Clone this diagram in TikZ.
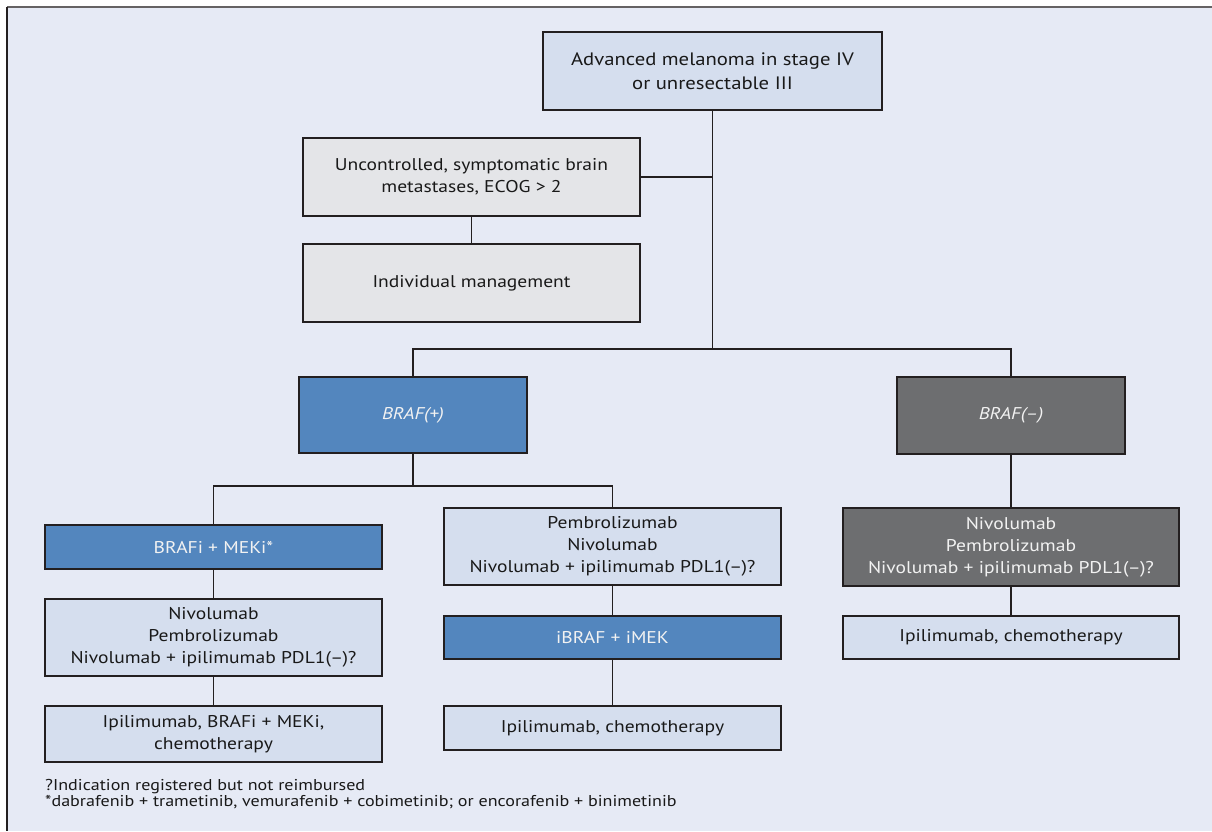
\documentclass[tikz,border=0pt]{standalone}
\usepackage{fontspec}
\setmainfont{PT Sans}[FakeStretch=1.15]
\definecolor{bg}{HTML}{E6EAF5}
\definecolor{lightbox}{HTML}{D5DEEE}
\definecolor{greybox}{HTML}{E4E5E8}
\definecolor{bluebox}{HTML}{5386BE}
\definecolor{darkbox}{HTML}{6D6E70}
\definecolor{linec}{HTML}{231F20}
\begin{document}
\begin{tikzpicture}[x=1pt,y=-1pt,
  box/.style={draw=linec, line width=1.2pt, rectangle, align=center, inner sep=2pt,
    font=\fontsize{17}{22}\selectfont, text=black!90},
  lbox/.style={box, fill=lightbox},
  gbox/.style={box, fill=greybox},
  bbox/.style={box, fill=bluebox, text=white!95!black},
  dbox/.style={box, fill=darkbox, text=white!95!black},
  conn/.style={draw=linec, line width=1.1pt},
  note/.style={anchor=base west, inner sep=0pt, font=\fontsize{15.7}{15.5}\selectfont, text=black!90}]
\useasboundingbox (0,0) rectangle (1212,831);
\fill[bg] (7,7) rectangle (1212,831);
\draw[linec!70, line width=1.2pt] (7,7) -- (1212,7);
\draw[linec, line width=1.5pt] (7,7) -- (7,831);

\node[lbox, minimum width=339pt, minimum height=78pt, font=\fontsize{18}{24}\selectfont] (top) at (712.5,71) {Advanced melanoma in stage IV\\or unresectable III};
\node[gbox, minimum width=337pt, minimum height=78pt] (unc) at (471.5,177) {Uncontrolled, symptomatic brain\\metastases, ECOG > 2};
\node[gbox, minimum width=337pt, minimum height=78pt] (ind) at (471.5,283) {Individual management};
\node[bbox, minimum width=228pt, minimum height=76pt] (bp) at (413,415) {\itshape BRAF(+)};
\node[dbox, minimum width=228pt, minimum height=77pt] (bm) at (1011,415.5) {\itshape BRAF(–)};

\node[bbox, minimum width=337pt, minimum height=44pt] (brafi) at (213.5,547) {BRAFi + MEKi*};
\node[lbox, minimum width=337pt, minimum height=77pt] (lnivo) at (213.5,637.5) {Nivolumab\\Pembrolizumab\\Nivolumab + ipilimumab PDL1(–)?};
\node[lbox, minimum width=337pt, minimum height=56pt] (lipi) at (213.5,734) {Ipilimumab, BRAFi + MEKi,\\chemotherapy};

\node[lbox, minimum width=337pt, minimum height=77pt] (mpem) at (612.5,546.5) {Pembrolizumab\\Nivolumab\\Nivolumab + ipilimumab PDL1(–)?};
\node[bbox, minimum width=337pt, minimum height=43pt] (ibraf) at (612.5,637.5) {iBRAF + iMEK};
\node[lbox, minimum width=337pt, minimum height=44pt] (mipi) at (612.5,728) {Ipilimumab, chemotherapy};

\node[dbox, minimum width=336pt, minimum height=78pt] (rnivo) at (1011,547) {Nivolumab\\Pembrolizumab\\Nivolumab + ipilimumab PDL1(–)?};
\node[lbox, minimum width=336pt, minimum height=43pt] (ripi) at (1011,637.5) {Ipilimumab, chemotherapy};

\coordinate (j1) at (712.5,349);
\coordinate (j2) at (413,486);

\draw[conn] (top.south) -- (j1);
\draw[conn] (unc.east) -- (unc.east -| top.south);
\draw[conn] (unc.south) -- (ind.north);
\draw[conn] (bp.north) |- (j1) -| (bm.north);
\draw[conn] (bp.south) -- (j2);
\draw[conn] (brafi.north) |- (j2) -| (mpem.north);
\draw[conn] (brafi.south) -- (lnivo.north);
\draw[conn] (lnivo.south) -- (lipi.north);
\draw[conn] (mpem.south) -- (ibraf.north);
\draw[conn] (ibraf.south) -- (mipi.north);
\draw[conn] (bm.south) -- (rnivo.north);
\draw[conn] (rnivo.south) -- (ripi.north);

\node[note] (n1) at (45,790.5) {?Indication registered but not reimbursed};
\node[note] (n2) at (45,806) {*dabrafenib + trametinib, vemurafenib + cobimetinib; or encorafenib + binimetinib};
\end{tikzpicture}
\end{document}
